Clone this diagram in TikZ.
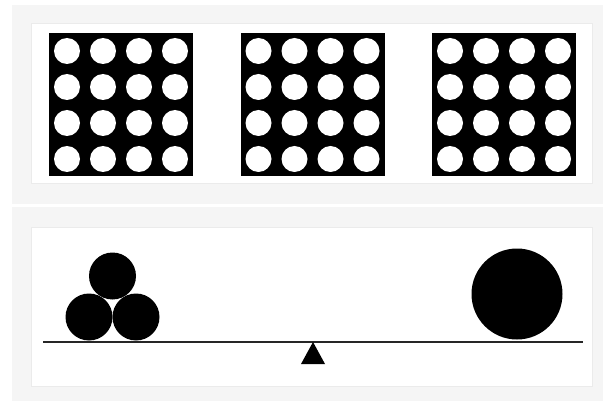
\documentclass[tikz,border=0pt]{standalone}
\definecolor{panelgray}{HTML}{F5F5F5}
\definecolor{boxline}{HTML}{EBEBEB}
\tikzset{
  panel/.style={fill=panelgray, draw=none},
  card/.style={fill=white, draw=boxline, line width=1pt},
  dotgrid/.style={fill=black},
  hole/.style={fill=white},
  ball/.style={fill=black},
}
\begin{document}
\begin{tikzpicture}[x=1pt,y=-1pt]
\useasboundingbox (0,0) rectangle (603,401);
% panels
\fill[white] (0,0) rectangle (603,401);
\path[panel] (12,5) rectangle (603,204);
\path[panel] (12,207) rectangle (603,401);
\path[card] (31.5,23.5) rectangle (592.5,183.5);
\path[card] (31.5,227.5) rectangle (592.5,386.5);
% dot squares
\foreach \sx in {49,240.5,432}{
  \path[dotgrid] (\sx,33) rectangle ++(144,143.5);
  \foreach \i in {0,...,3}{
    \foreach \j in {0,...,3}{
      \path[hole] (\sx+18+36*\i, 51+36*\j) circle (13);
    }
  }
}
% balance
\coordinate (beamL) at (43,342);
\coordinate (beamR) at (583,342);
\draw[line width=2.6pt, black!85] (beamL) -- (beamR);
\coordinate (apex) at (313,342);
\path[fill=black] (apex) -- (325,364) -- (301,364) -- cycle;
% three small balls
\path[ball] (89,317) circle (23.5);
\path[ball] (136,317) circle (23.5);
\path[ball] (112.5,276) circle (23.5);
% triangle gap between balls
\path[fill=white] (107.5,301) -- (117.5,301) -- (112.5,310) -- cycle;
% big ball
\path[ball] (517,294) circle (45.5);
\end{tikzpicture}
\end{document}
